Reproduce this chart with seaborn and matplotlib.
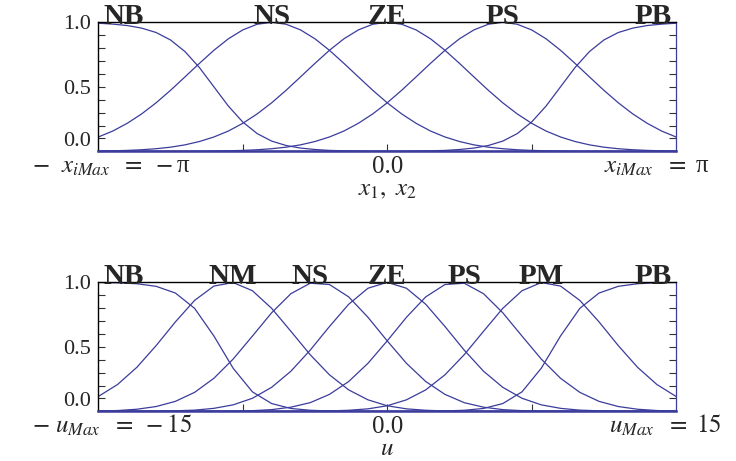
import numpy as np
import pandas as pd
import matplotlib.pyplot as plt
import seaborn as sns

# Membership functions
# upper panel: x1, x2 in [-pi, pi], 41 samples
top_x = np.linspace(-np.pi, np.pi, 41)
top_sets = ["NB", "NS", "ZE", "PS", "PB"]
top_nb = [0.993, 0.986, 0.975, 0.955, 0.921, 0.863, 0.773, 0.649, 0.5, 0.351,
          0.227, 0.137, 0.079, 0.045, 0.025, 0.014, 0.007, 0.004, 0.002, 0.001,
          0.001, 0, 0, 0, 0, 0, 0, 0, 0, 0, 0, 0, 0, 0, 0, 0, 0, 0, 0, 0, 0]
top_ns = [0.111, 0.157, 0.217, 0.29, 0.376, 0.473, 0.577, 0.682, 0.783, 0.872,
          0.941, 0.985, 1.0, 0.985, 0.941, 0.872, 0.783, 0.682, 0.577, 0.473,
          0.376, 0.29, 0.217, 0.157, 0.111, 0.076, 0.05, 0.032, 0.02, 0.012,
          0.007, 0.004, 0.002, 0.001, 0, 0, 0, 0, 0, 0, 0]
top_ze = [0.002, 0.004, 0.007, 0.012, 0.02, 0.032, 0.05, 0.076, 0.111, 0.157,
          0.217, 0.29, 0.376, 0.473, 0.577, 0.682, 0.783, 0.872, 0.941, 0.985,
          1.0, 0.985, 0.941, 0.872, 0.783, 0.682, 0.577, 0.473, 0.376, 0.29,
          0.217, 0.157, 0.111, 0.076, 0.05, 0.032, 0.02, 0.012, 0.007, 0.004, 0.002]
top_ps = top_ns[::-1]
top_pb = top_nb[::-1]

# lower panel: u in [-15, 15], 31 samples
bot_x = np.arange(-15, 16)
bot_sets = ["NB", "NM", "NS", "ZE", "PS", "PM", "PB"]
bot_nb = [0.999, 0.996, 0.989, 0.969, 0.917, 0.798, 0.584, 0.334, 0.151, 0.06, 0.022,
          0.008, 0.003, 0.001, 0, 0, 0, 0, 0, 0, 0, 0, 0, 0, 0, 0, 0, 0, 0, 0, 0]
bot_nm = [0.115, 0.208, 0.341, 0.509, 0.693, 0.86, 0.971, 0.998, 0.935, 0.798, 0.62,
          0.439, 0.283, 0.166, 0.089, 0.043, 0.019, 0.008, 0.003, 0.001, 0,
          0, 0, 0, 0, 0, 0, 0, 0, 0, 0]
bot_ns = [0.002, 0.006, 0.016, 0.037, 0.077, 0.147, 0.256, 0.405, 0.583, 0.764, 0.912,
          0.993, 0.983, 0.887, 0.729, 0.546, 0.372, 0.231, 0.131, 0.067, 0.032,
          0.013, 0.005, 0.002, 0.001, 0, 0, 0, 0, 0, 0]
bot_ze = [0, 0, 0, 0.001, 0.004, 0.009, 0.023, 0.05, 0.101, 0.186, 0.311, 0.474, 0.657,
          0.83, 0.954, 1.0, 0.954, 0.83, 0.657, 0.474, 0.311, 0.186, 0.101, 0.05,
          0.023, 0.009, 0.004, 0.001, 0, 0, 0]
bot_ps = bot_ns[::-1]
bot_pm = bot_nm[::-1]
bot_pb = bot_nb[::-1]

LINE = "#3b3c9c"

sns.set_theme(style="white")
plt.rcParams['font.family'] = ['Liberation Serif', 'DejaVu Serif']
plt.rcParams['mathtext.fontset'] = 'stix'

fig = plt.figure(figsize=(7.36, 4.61), dpi=100)
ax1 = fig.add_axes([0.1336, 0.6718, 0.785, 0.2798])
ax2 = fig.add_axes([0.1336, 0.1078, 0.785, 0.2798])


def draw_panel(ax, x, names, curves, xticks, left_txt, right_txt, xlabel, offs):
    df = pd.DataFrame({
        'x': np.tile(x, len(names)),
        'mu': np.concatenate([np.asarray(c, float) for c in curves]),
        'set': np.repeat(names, len(x)),
    })
    sns.lineplot(data=df, x='x', y='mu', hue='set', palette=[LINE] * len(names),
                 legend=False, lw=0.9, ax=ax)
    ax.set_xlim(x[0], x[-1])
    ax.set_ylim(0, 1)
    ax.set_xlabel('')
    ax.set_ylabel('')

    # frame
    for side in ['left', 'top']:
        ax.spines[side].set_color('black')
        ax.spines[side].set_linewidth(1.0)
    ax.spines['right'].set_color(LINE)
    ax.spines['right'].set_linewidth(0.9)
    ax.spines['bottom'].set_color(LINE)
    ax.spines['bottom'].set_linewidth(1.8)

    yt = np.round(np.arange(0, 1.01, 0.1), 1)
    ax.set_yticks(yt)
    ax.set_yticklabels([f"{v:.1f}" if v in (0.0, 0.5, 1.0) else "" for v in yt])
    ax.tick_params(axis='y', direction='in', length=5, width=0.8, color='#333333',
                   left=True, right=True, labelsize=16, pad=5.5)
    ax.get_yticklabels()[0].set_verticalalignment('bottom')
    ax.set_xticks(xticks)
    ax.set_xticklabels([])
    ax.tick_params(axis='x', direction='in', length=5, width=0.8, color='#333333',
                   bottom=True, top=False)

    # set names above each peak
    for i, (name, c) in enumerate(zip(names, curves)):
        xp = x[int(np.argmax(c))]
        if i == 0:
            ha, dx = 'left', 4
        elif i == len(names) - 1:
            ha, dx = 'right', -3
        else:
            ha, dx = 'center', 0
        ax.annotate(name, xy=(xp, 0.985), xycoords=('data', 'axes fraction'),
                    xytext=(dx, 0), textcoords='offset points', ha=ha,
                    va='baseline', fontsize=21, fontweight='bold')

    # x annotations
    kw = dict(xycoords='axes fraction', textcoords='offset points', ha='center',
              va='baseline', fontsize=18)
    ax.annotate(left_txt, xy=(0, 0), xytext=(offs[0], -15.5), **kw)
    ax.annotate("0.0", xy=(0.5, 0), xytext=(0, -15.5), **kw)
    ax.annotate(right_txt, xy=(1, 0), xytext=(offs[1], -15.5), **kw)
    ax.annotate(xlabel, xy=(0.5, 0), xytext=(0, -31.5), **kw)


draw_panel(ax1, top_x, top_sets, [top_nb, top_ns, top_ze, top_ps, top_pb],
           [-np.pi / 2, 0, np.pi / 2],
           r"$-\ \ x_{iMax}\ \ =\ -$π", r"$x_{iMax}\ \ =\ $π", r"$x_1,\ x_2$", (9, -14))
draw_panel(ax2, bot_x, bot_sets, [bot_nb, bot_nm, bot_ns, bot_ze, bot_ps, bot_pm, bot_pb],
           [-7.5, 0, 7.5],
           r"$-\ u_{Max}\ \ =\ -15$", r"$u_{Max}\ \ =\ 15$", r"$u$", (10, -8))

fig.savefig("out.png", dpi=100)
